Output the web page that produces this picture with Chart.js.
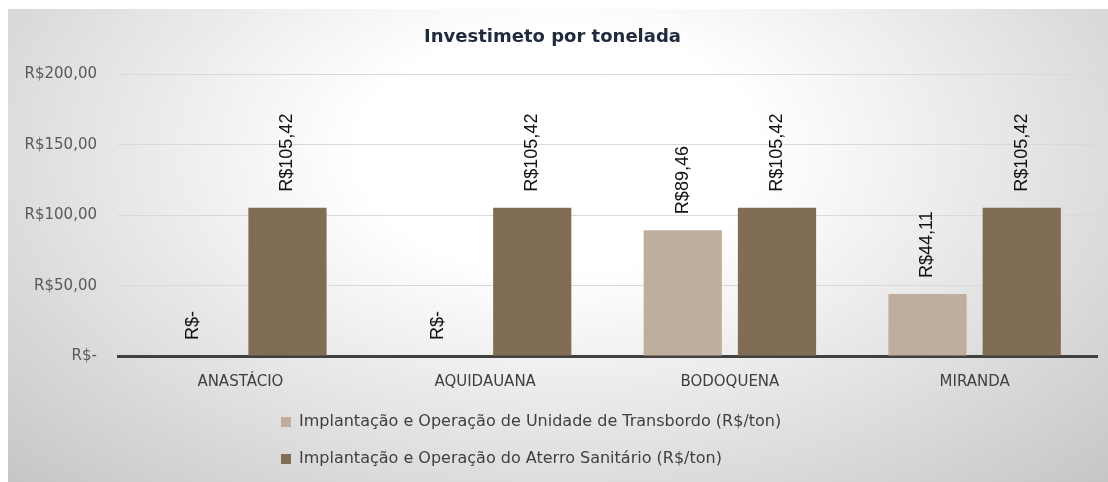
<!DOCTYPE html>
<html>
<head>
<meta charset="utf-8">
<script src="https://cdn.jsdelivr.net/npm/chart.js@4.4.0/dist/chart.umd.min.js"></script>
<style>
  html, body { margin: 0; padding: 0; background: #fff; }
  #wrap {
    position: absolute; left: 8px; top: 9px; width: 1100px; height: 473px;
    background: radial-gradient(ellipse farthest-corner at 50% 30%, #ffffff 0%, #ffffff 26%, #c6c6c6 100%);
  }
</style>
</head>
<body>
<div id="wrap"><canvas id="chart" width="1100" height="473"></canvas></div>
<script>
// data
const categories = ['ANASTÁCIO', 'AQUIDAUANA', 'BODOQUENA', 'MIRANDA'];
const transbordo = [0, 0, 89.46, 44.11];
const aterro = [105.42, 105.42, 105.42, 105.42];
const seriesNames = [
  'Implantação e Operação de Unidade de Transbordo (R$/ton)',
  'Implantação e Operação do Aterro Sanitário (R$/ton)'
];
const yTickLabels = ['R$-', 'R$50,00', 'R$100,00', 'R$150,00', 'R$200,00'];

const FONT = '"DejaVu Sans", Verdana, sans-serif';

const money = v => v === 0 ? 'R$-' : 'R$' + v.toFixed(2).replace('.', ',');

// vertical value labels above each bar
const barLabels = {
  id: 'barLabels',
  afterDatasetsDraw(chart) {
    const ctx = chart.ctx;
    ctx.save();
    ctx.font = '18px "Liberation Sans", Arial, sans-serif';
    ctx.fillStyle = '#111';
    ctx.textAlign = 'left';
    ctx.textBaseline = 'middle';
    chart.data.datasets.forEach((ds, di) => {
      chart.getDatasetMeta(di).data.forEach((bar, i) => {
        ctx.save();
        ctx.translate(bar.x, bar.y - 16);
        ctx.rotate(-Math.PI / 2);
        ctx.fillText(money(ds.data[i]), 0, 0);
        ctx.restore();
      });
    });
    ctx.restore();
  }
};

// legend rows left aligned as one block
const legendShift = {
  id: 'legendShift',
  afterLayout(chart) {
    chart.legend.left = 252;
  }
};

new Chart(document.getElementById('chart'), {
  type: 'bar',
  data: {
    labels: categories,
    datasets: [
      {
        label: seriesNames[0],
        data: transbordo,
        backgroundColor: '#bfae9e',
        categoryPercentage: 0.77,
        barPercentage: 0.83
      },
      {
        label: seriesNames[1],
        data: aterro,
        backgroundColor: '#816d56',
        categoryPercentage: 0.77,
        barPercentage: 0.83
      }
    ]
  },
  options: {
    responsive: false,
    animation: false,
    events: [],
    layout: { padding: { top: 0, right: 11, bottom: 5, left: 0 } },
    scales: {
      x: {
        grid: { display: false },
        border: { display: true, color: '#404040', width: 3 },
        ticks: { color: '#404040', font: { family: FONT, size: 15 }, padding: 9 },
        afterFit: s => { s.height = 37; }
      },
      y: {
        min: 0,
        max: 200,
        grid: { color: '#d9d9d9', drawTicks: false },
        border: { display: false },
        ticks: {
          stepSize: 50,
          color: '#595959',
          font: { family: FONT, size: 15 },
          padding: 21,
          callback: (v, i) => yTickLabels[i]
        },
        afterFit: s => { s.width = 110; }
      }
    },
    plugins: {
      title: {
        display: true,
        text: 'Investimeto por tonelada',
        color: '#1f2a3c',
        font: { family: FONT, size: 18, weight: 'bold' },
        padding: { top: 18, bottom: 26 }
      },
      legend: {
        position: 'bottom',
        align: 'start',
        fullSize: false,
        labels: {
          boxWidth: 10,
          boxHeight: 10,
          padding: 21,
          color: '#404040',
          font: { family: FONT, size: 16 }
        }
      },
      tooltip: { enabled: false }
    }
  },
  plugins: [barLabels, legendShift]
});
</script>
</body>
</html>
